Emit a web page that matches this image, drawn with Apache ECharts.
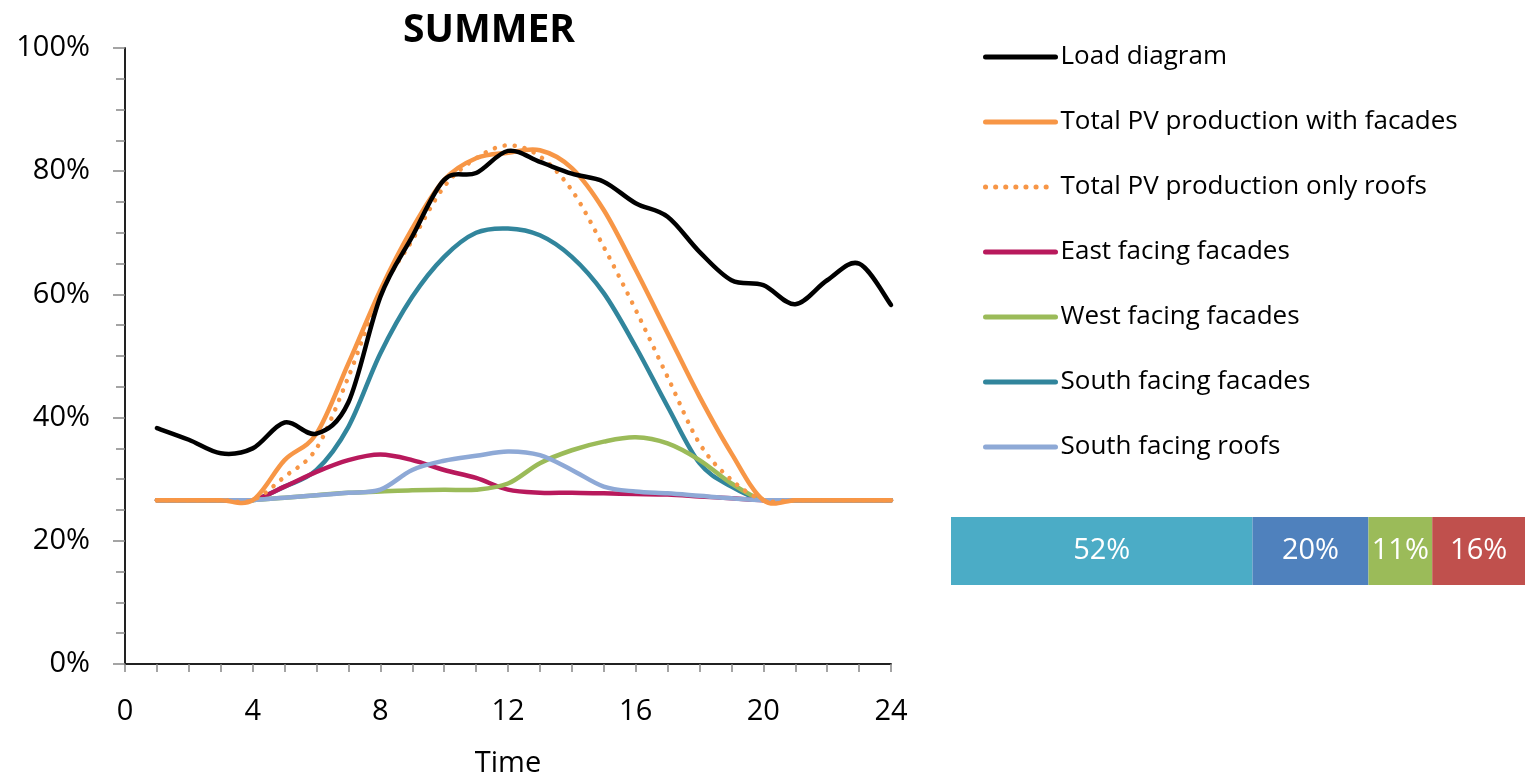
<!DOCTYPE html>
<html>
<head>
<meta charset="utf-8">
<script src="https://cdn.jsdelivr.net/npm/echarts@6/dist/echarts.min.js"></script>
<style>
  html, body { margin: 0; padding: 0; background: #fff; }
  #chart { width: 1529px; height: 778px; }
</style>
</head>
<body>
<div id="chart"></div>
<script>
// Hourly profiles, share of peak (%)
const hours = [1,2,3,4,5,6,7,8,9,10,11,12,13,14,15,16,17,18,19,20,21,22,23,24];
const loadDiagram = [38.3,36.4,34.2,35.0,39.2,37.4,42.5,59.6,69.4,78.6,79.7,83.3,81.5,79.6,78.3,74.8,72.6,66.9,62.3,61.5,58.4,62.3,65.0,58.3];
const pvWithFacades = [26.6,26.6,26.6,26.6,33.1,37.4,48.8,60.7,70.7,78.6,82.1,83.0,83.4,80.5,73.7,64.0,53.7,43.4,34.2,26.6,26.6,26.6,26.6,26.6];
const pvOnlyRoofs = [26.6,26.6,26.6,26.6,30.4,35.0,46.6,60.2,68.8,77.5,82.1,84.2,82.4,76.9,67.7,57.5,46.6,35.8,29.9,26.6,26.6,26.6,26.6,26.6];
const eastFacades = [26.6,26.6,26.6,26.6,28.8,31.2,33.1,34.0,33.1,31.5,30.2,28.3,27.8,27.8,27.7,27.6,27.5,27.2,26.9,26.6,26.6,26.6,26.6,26.6];
const westFacades = [26.6,26.6,26.6,26.6,27.0,27.4,27.8,28.0,28.2,28.3,28.3,29.3,32.6,34.7,36.1,36.8,35.8,33.1,29.3,26.6,26.6,26.6,26.6,26.6];
const southFacades = [26.6,26.6,26.6,26.6,28.8,31.5,38.5,50.4,59.6,66.1,70.0,70.7,69.6,66.1,60.2,51.5,41.8,32.6,28.8,26.6,26.6,26.6,26.6,26.6];
const southRoofs = [26.6,26.6,26.6,26.6,27.0,27.4,27.8,28.3,31.5,33.0,33.8,34.5,33.9,31.5,28.8,28.0,27.7,27.3,26.9,26.6,26.6,26.6,26.6,26.6];

// Annual share by orientation
const shareLabels = ['South facades', 'South roofs', 'West facades', 'East facades'];
const shareValues = [52, 20, 11, 16];

const pairs = arr => hours.map((h, i) => [h, arr[i]]);

const FONT = '"Open Sans", "Noto Sans", sans-serif';
const LINE_W = 4.5;

const lineDefs = [
  { name: 'Load diagram', data: loadDiagram, color: '#000000', dash: 'solid', z: 9 },
  { name: 'Total PV production with facades', data: pvWithFacades, color: '#F79646', dash: 'solid', z: 7 },
  { name: 'Total PV production only roofs', data: pvOnlyRoofs, color: '#F79646', dash: [0.1, 10], z: 8 },
  { name: 'East facing facades', data: eastFacades, color: '#B8195C', dash: 'solid', z: 4 },
  { name: 'West facing facades', data: westFacades, color: '#9BBB59', dash: 'solid', z: 5 },
  { name: 'South facing facades', data: southFacades, color: '#31859C', dash: 'solid', z: 3 },
  { name: 'South facing roofs', data: southRoofs, color: '#8EA9D6', dash: 'solid', z: 6 }
];

// Cardinal (Catmull-Rom) spline through projected points, spreadsheet-style smoothing
function splinePath(pts) {
  let d = 'M' + pts[0][0] + ',' + pts[0][1];
  for (let i = 0; i < pts.length - 1; i++) {
    const p0 = pts[i - 1] || pts[i];
    const p1 = pts[i];
    const p2 = pts[i + 1];
    const p3 = pts[i + 2] || pts[i + 1];
    const c1x = p1[0] + (p2[0] - p0[0]) / 6;
    const c1y = p1[1] + (p2[1] - p0[1]) / 6;
    const c2x = p2[0] - (p3[0] - p1[0]) / 6;
    const c2y = p2[1] - (p3[1] - p1[1]) / 6;
    d += ' C' + c1x + ',' + c1y + ' ' + c2x + ',' + c2y + ' ' + p2[0] + ',' + p2[1];
  }
  return d;
}

// Smoothed curves, one custom series per profile
const curveSeries = lineDefs.map(d => ({
  id: 'curve-' + d.name,
  name: d.name + ' curve',
  type: 'custom',
  coordinateSystem: 'cartesian2d',
  xAxisIndex: 0,
  yAxisIndex: 0,
  data: pairs(d.data),
  encode: { x: 0, y: 1 },
  z: d.z,
  silent: true,
  renderItem: function (params, api) {
    if (params.dataIndexInside !== 0) return null;
    const n = params.dataInsideLength;
    const pts = [];
    for (let j = 0; j < n; j++) {
      pts.push(api.coord([api.value(0, j), api.value(1, j)]));
    }
    return {
      type: 'path',
      shape: { pathData: splinePath(pts) },
      style: {
        fill: 'none',
        stroke: d.color,
        lineWidth: LINE_W,
        lineDash: d.dash === 'solid' ? null : d.dash,
        lineCap: 'round',
        lineJoin: 'round'
      }
    };
  }
}));

// Legend entries (line keys only)
const keySeries = lineDefs.map(d => ({
  name: d.name,
  type: 'line',
  xAxisIndex: 0,
  yAxisIndex: 0,
  data: [],
  symbol: 'none',
  color: d.color,
  lineStyle: { color: d.color, width: LINE_W, type: d.dash, cap: 'round' }
}));

const barColors = ['#4BACC6', '#4F81BD', '#9BBB59', '#C0504D'];
const barSeries = shareValues.map((v, i) => ({
  name: shareLabels[i],
  type: 'bar',
  stack: 'share',
  xAxisIndex: 2,
  yAxisIndex: 2,
  data: [v],
  barWidth: '100%',
  itemStyle: { color: barColors[i] },
  label: {
    show: true,
    position: 'inside',
    formatter: '{c}%',
    color: '#ffffff',
    fontSize: 29,
    fontFamily: FONT
  }
}));

const chart = echarts.init(document.getElementById('chart'));
chart.setOption({
  animation: false,
  backgroundColor: '#ffffff',
  title: {
    text: 'SUMMER',
    left: 484,
    textAlign: 'center',
    top: 5,
    textStyle: { fontSize: 39, fontWeight: 'bold', color: '#000', fontFamily: FONT, lineHeight: 42 }
  },
  legend: {
    data: lineDefs.map(d => d.name),
    orient: 'vertical',
    left: 978,
    top: 39,
    itemWidth: 70,
    itemHeight: 26,
    itemGap: 39,
    itemStyle: { opacity: 0, color: 'transparent', borderWidth: 0 },
    lineStyle: { width: 5, opacity: 1 },
    textStyle: { fontSize: 26, lineHeight: 26, color: '#000', fontFamily: FONT },
    selectedMode: false
  },
  grid: [
    { left: 125, right: 638, top: 48, bottom: 114, outerBoundsMode: 'none', containLabel: false },
    { left: 125, right: 638, top: 48, bottom: 114, outerBoundsMode: 'none', containLabel: false },
    { left: 951, width: 574, top: 517, height: 68, outerBoundsMode: 'none', containLabel: false }
  ],
  xAxis: [
    {
      type: 'value', gridIndex: 0, min: 0, max: 24, interval: 4,
      name: 'Time', nameLocation: 'middle', nameGap: 85,
      nameTextStyle: { fontSize: 29, lineHeight: 30, color: '#000', fontFamily: FONT },
      axisLine: { show: true, lineStyle: { color: '#868686', width: 2 } },
      axisTick: { show: true, inside: false, length: 8, lineStyle: { color: '#868686', width: 1.5 } },
      minorTick: { show: true, splitNumber: 4, length: 8, lineStyle: { color: '#868686', width: 1.5 } },
      axisLabel: { fontSize: 29, lineHeight: 30, color: '#000', margin: 33, fontFamily: FONT },
      splitLine: { show: false }
    },
    {
      type: 'value', gridIndex: 1, position: 'top', min: 0, max: 24,
      axisLine: { show: true, lineStyle: { color: '#000', width: 1.5 } },
      axisTick: { show: false }, axisLabel: { show: false }, splitLine: { show: false }
    },
    {
      type: 'value', gridIndex: 2, min: 0, max: 99, show: false
    }
  ],
  yAxis: [
    {
      type: 'value', gridIndex: 0, min: 0, max: 100, interval: 20,
      axisLine: { show: true, lineStyle: { color: '#868686', width: 2 } },
      axisTick: { show: true, inside: false, length: 12, lineStyle: { color: '#868686', width: 1.5 } },
      minorTick: { show: true, splitNumber: 4, length: 9, lineStyle: { color: '#868686', width: 1.5 } },
      axisLabel: { fontSize: 29, color: '#000', margin: 35, formatter: '{value}%', fontFamily: FONT },
      splitLine: { show: false }
    },
    {
      type: 'value', gridIndex: 1, position: 'right', min: 0, max: 100,
      axisLine: { show: true, lineStyle: { color: '#000', width: 1.5 } },
      axisTick: { show: false }, axisLabel: { show: false }, splitLine: { show: false }
    },
    {
      type: 'category', gridIndex: 2, data: ['share'], show: false
    }
  ],
  series: [...keySeries, ...curveSeries, ...barSeries]
});
</script>
</body>
</html>
